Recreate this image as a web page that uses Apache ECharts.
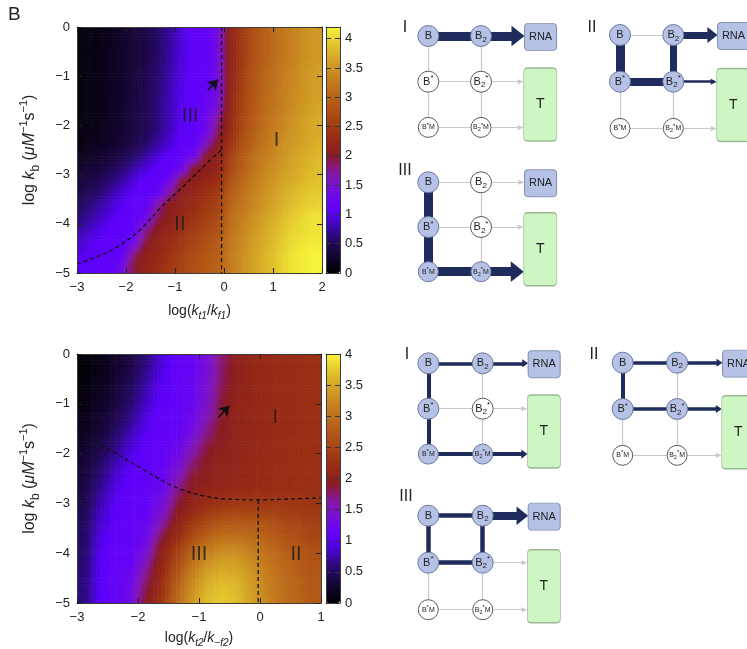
<!DOCTYPE html>
<html>
<head>
<meta charset="utf-8">
<script src="https://cdn.jsdelivr.net/npm/echarts@6/dist/echarts.min.js"></script>
<style>
  html, body { margin: 0; padding: 0; background: #fff; }
  #chart { width: 747px; height: 649px; }
</style>
</head>
<body>
<div id="chart"></div>
<script>
// ---------- data: heat maps (cell centres) ----------
const topX = [-2.875,-2.625,-2.375,-2.125,-1.875,-1.625,-1.375,-1.125,-0.875,-0.625,-0.375,-0.125,0.125,0.375,0.625,0.875,1.125,1.375,1.625,1.875];
const botX = [-2.875,-2.625,-2.375,-2.125,-1.875,-1.625,-1.375,-1.125,-0.875,-0.625,-0.375,-0.125,0.125,0.375,0.625,0.875];
const rowY = [-0.125,-0.375,-0.625,-0.875,-1.125,-1.375,-1.625,-1.875,-2.125,-2.375,-2.625,-2.875,-3.125,-3.375,-3.625,-3.875,-4.125,-4.375,-4.625,-4.875];

const topZ = [
  [0.07,0.11,0.16,0.23,0.30,0.40,0.53,0.72,0.92,1.10,1.15,1.40,2.15,2.50,2.80,3.00,3.15,3.30,3.45,3.55],
  [0.07,0.11,0.16,0.23,0.30,0.40,0.53,0.72,0.92,1.10,1.15,1.40,2.15,2.50,2.80,3.00,3.15,3.30,3.45,3.55],
  [0.08,0.12,0.17,0.24,0.31,0.41,0.55,0.74,0.94,1.10,1.15,1.40,2.15,2.50,2.80,3.00,3.15,3.30,3.45,3.55],
  [0.08,0.12,0.17,0.24,0.32,0.42,0.56,0.75,0.95,1.10,1.15,1.40,2.15,2.55,2.85,3.05,3.20,3.35,3.50,3.60],
  [0.09,0.13,0.18,0.25,0.33,0.44,0.58,0.77,0.97,1.10,1.15,1.40,2.15,2.55,2.85,3.05,3.20,3.35,3.50,3.60],
  [0.09,0.13,0.19,0.26,0.34,0.45,0.60,0.80,1.00,1.10,1.20,1.45,2.20,2.60,2.90,3.10,3.25,3.40,3.50,3.60],
  [0.09,0.13,0.19,0.26,0.35,0.46,0.61,0.81,1.01,1.10,1.20,1.50,2.20,2.60,2.90,3.10,3.25,3.40,3.55,3.65],
  [0.09,0.13,0.19,0.26,0.35,0.45,0.60,0.80,1.02,1.10,1.30,1.75,2.25,2.65,2.95,3.15,3.30,3.45,3.60,3.70],
  [0.10,0.15,0.21,0.28,0.37,0.48,0.64,0.83,1.05,1.10,1.30,1.85,2.30,2.70,3.00,3.20,3.35,3.50,3.60,3.70],
  [0.12,0.17,0.24,0.32,0.42,0.54,0.73,0.92,1.10,1.10,1.60,2.05,2.40,2.80,3.05,3.25,3.40,3.55,3.65,3.75],
  [0.18,0.25,0.32,0.42,0.53,0.71,0.90,1.10,1.10,1.30,2.00,2.15,2.55,2.90,3.15,3.30,3.45,3.60,3.70,3.80],
  [0.27,0.34,0.44,0.56,0.74,0.92,1.10,1.10,1.30,2.00,2.05,2.20,2.65,2.95,3.20,3.40,3.50,3.65,3.75,3.85],
  [0.35,0.44,0.56,0.74,0.92,1.10,1.10,1.30,1.95,2.10,2.20,2.35,2.80,3.05,3.30,3.45,3.60,3.70,3.80,3.90],
  [0.44,0.55,0.72,0.90,1.05,1.10,1.15,1.70,2.05,2.20,2.35,2.50,2.90,3.15,3.35,3.50,3.65,3.80,3.90,3.95],
  [0.53,0.70,0.85,1.00,1.10,1.10,1.65,2.05,2.15,2.30,2.45,2.60,3.00,3.20,3.40,3.55,3.70,3.85,3.95,4.00],
  [0.65,0.80,0.95,1.10,1.10,1.25,1.85,2.10,2.25,2.40,2.55,2.70,3.10,3.30,3.50,3.65,3.80,3.95,4.05,4.10],
  [0.77,0.93,1.05,1.10,1.10,1.70,2.05,2.20,2.35,2.50,2.65,2.80,3.15,3.35,3.55,3.70,3.85,4.00,4.05,4.10],
  [0.90,1.05,1.10,1.10,1.25,1.90,2.15,2.30,2.45,2.60,2.75,2.90,3.20,3.40,3.60,3.75,3.90,4.05,4.10,4.15],
  [1.00,1.10,1.10,1.10,1.75,2.10,2.25,2.40,2.55,2.70,2.85,2.95,3.25,3.45,3.65,3.80,3.95,4.10,4.15,4.20],
  [1.05,1.10,1.10,1.30,1.90,2.15,2.30,2.45,2.60,2.75,2.90,3.00,3.25,3.45,3.65,3.80,3.95,4.10,4.15,4.20]
];

const botZ = [
  [0.05,0.12,0.22,0.38,0.60,0.88,1.05,1.15,1.40,1.75,2.00,2.10,2.15,2.20,2.20,2.25],
  [0.06,0.14,0.25,0.42,0.65,0.92,1.07,1.15,1.40,1.77,2.00,2.10,2.15,2.20,2.20,2.25],
  [0.08,0.16,0.29,0.47,0.72,0.97,1.08,1.17,1.42,1.80,2.02,2.10,2.15,2.20,2.20,2.25],
  [0.10,0.19,0.33,0.53,0.79,1.01,1.09,1.18,1.45,1.85,2.03,2.10,2.15,2.20,2.20,2.25],
  [0.12,0.22,0.38,0.60,0.86,1.05,1.10,1.20,1.50,1.88,2.05,2.10,2.15,2.20,2.20,2.25],
  [0.15,0.27,0.45,0.68,0.93,1.07,1.10,1.25,1.60,1.92,2.05,2.10,2.15,2.20,2.20,2.25],
  [0.19,0.33,0.53,0.78,0.99,1.08,1.12,1.35,1.72,1.95,2.05,2.10,2.15,2.20,2.20,2.25],
  [0.24,0.40,0.62,0.88,1.03,1.09,1.18,1.50,1.85,2.00,2.07,2.12,2.17,2.20,2.22,2.25],
  [0.29,0.48,0.72,0.96,1.06,1.10,1.28,1.68,1.93,2.03,2.08,2.13,2.18,2.20,2.22,2.25],
  [0.33,0.56,0.82,1.02,1.08,1.12,1.42,1.82,1.98,2.05,2.10,2.14,2.18,2.20,2.22,2.25],
  [0.37,0.64,0.90,1.05,1.09,1.16,1.58,1.93,2.03,2.08,2.12,2.16,2.20,2.22,2.23,2.25],
  [0.41,0.72,0.96,1.07,1.10,1.25,1.75,2.02,2.12,2.20,2.25,2.27,2.27,2.27,2.26,2.26],
  [0.45,0.79,1.00,1.08,1.12,1.38,1.88,2.12,2.30,2.40,2.45,2.45,2.42,2.40,2.35,2.32],
  [0.48,0.85,1.03,1.09,1.15,1.55,2.00,2.30,2.55,2.70,2.75,2.72,2.65,2.55,2.48,2.42],
  [0.51,0.90,1.06,1.10,1.22,1.75,2.15,2.50,2.80,2.95,2.95,2.90,2.80,2.68,2.58,2.50],
  [0.54,0.94,1.08,1.10,1.35,1.95,2.35,2.75,3.05,3.20,3.20,3.08,2.95,2.80,2.68,2.60],
  [0.56,0.97,1.09,1.12,1.50,2.05,2.50,2.95,3.25,3.40,3.38,3.22,3.05,2.90,2.76,2.66],
  [0.58,0.99,1.10,1.18,1.65,2.12,2.65,3.12,3.42,3.55,3.50,3.32,3.12,2.95,2.80,2.70],
  [0.60,1.00,1.10,1.25,1.78,2.20,2.78,3.25,3.55,3.68,3.60,3.38,3.16,2.98,2.83,2.73],
  [0.60,1.00,1.10,1.30,1.88,2.28,2.88,3.35,3.65,3.75,3.65,3.42,3.18,3.00,2.85,2.75]
];

// axis ranges / ticks
const topXTicks = [-3, -2, -1, 0, 1, 2];
const botXTicks = [-3, -2, -1, 0, 1];
const yTicks = [-5, -4, -3, -2, -1, 0];
const cbTicks = [0, 0.5, 1, 1.5, 2, 2.5, 3, 3.5, 4];
const topCbMax = 4.2;
const botCbMax = 4;

// dashed regime boundaries, arrows and regime names
const topBoundary = [[-3,-4.82],[-2.7,-4.71],[-2.36,-4.57],[-2.0,-4.35],[-1.68,-4.09],[-1.27,-3.65],[-0.8,-3.21],[-0.32,-2.74],[-0.05,-2.5]];
const topDivider = [[-0.05,0],[-0.05,-5]];
const botBoundary = [[-3,-1.53],[-2.49,-1.9],[-1.94,-2.3],[-1.39,-2.67],[-0.85,-2.87],[-0.4,-2.92],[-0.03,-2.93],[0.5,-2.91],[1,-2.89]];
const botDivider = [[-0.03,-2.93],[-0.03,-5]];
const topArrow = [[-0.33,-1.28],[-0.12,-1.07]];
const botArrow = [[-0.68,-1.27],[-0.5,-1.04]];
const topRegions = [['III',-0.69,-1.82],['I',1.07,-2.3],['II',-0.9,-4.01]];
const botRegions = [['I',0.25,-1.27],['III',-1.0,-4.03],['II',0.59,-4.03]];

// ---------- data: flux diagrams ----------
const EDGES = [['B','B2'],['B','Bs'],['B2','B2s'],['Bs','B2s'],['Bs','BsM'],['B2s','B2sM'],['BsM','B2sM'],['B2','RNA'],['B2s','T'],['B2sM','T']];
// line width of each edge (same order as EDGES), 0 = no flux
const fluxTopI   = [9,   0,   0,   0,   0, 0, 0, 9,   0,   0];
const fluxTopII  = [0,   9,   7,   8,   0, 0, 0, 7,   2.5, 0];
const fluxTopIII = [0,   9,   0,   0,   9, 0, 9, 0,   0,   9];
const fluxBotI   = [3.5, 4,   0,   0,   4, 0, 4, 3.5, 0,   4];
const fluxBotII  = [3.5, 4,   0,   3.5, 0, 0, 0, 3.5, 3.5, 0];
const fluxBotIII = [4.5, 4.5, 4.5, 4.5, 0, 0, 0, 8,   0,   0];
const activeTopI   = ['B','B2'];
const activeTopII  = ['B','B2','Bs','B2s'];
const activeTopIII = ['B','Bs','BsM','B2sM'];
const activeBotI   = ['B','B2','Bs','BsM','B2sM'];
const activeBotII  = ['B','B2','Bs','B2s'];
const activeBotIII = ['B','B2','Bs','B2s'];

// ---------- layout / style ----------
const FONT = "'Liberation Sans', Arial, Helvetica, sans-serif";
const TXT = '#222';
const NAVY = '#1f2b5b';
const minus = v => String(v).replace('-', '\u2212');

// slot of each species in a diagram (column, row)
const SLOT = { B: [0, 0], B2: [1, 0], Bs: [0, 1], B2s: [1, 1], BsM: [0, 2], B2sM: [1, 2] };
const NODE_TEXT = { B: 'B', B2: 'B{s|2}', Bs: 'B{p|*}', B2s: 'B{s|2}{p|*}', BsM: 'B{p|*}M', B2sM: 'B{s|2}{p|*}M' };
const RNA_POS = [2.13, 0.02], T_POS = [2.125, 1.5];
const RNA_SIZE = [32, 27], T_SIZE = [33, 73];
const roundBox = (w, h, r) => 'path://M' + r + ',0 H' + (w - r) + ' Q' + w + ',0 ' + w + ',' + r + ' V' + (h - r) +
  ' Q' + w + ',' + h + ' ' + (w - r) + ',' + h + ' H' + r + ' Q0,' + h + ' 0,' + (h - r) + ' V' + r + ' Q0,0 ' + r + ',0 Z';

// where each small diagram sits (centre of B in px, column / row spacing)
const PANELS = [
  { flux: fluxTopI,   active: activeTopI,   name: 'I',   bx: 428.3, by: 36,    dx: 52.7, dy: 45.7, lx: 405, ly: 28 },
  { flux: fluxTopII,  active: activeTopII,  name: 'II',  bx: 620,   by: 35,    dx: 53.3, dy: 46.7, lx: 592, ly: 28 },
  { flux: fluxTopIII, active: activeTopIII, name: 'III', bx: 428.3, by: 182.3, dx: 52.7, dy: 44.7, lx: 405, ly: 171 },
  { flux: fluxBotI,   active: activeBotI,   name: 'I',   bx: 428.3, by: 363.3, dx: 54.4, dy: 45.4, lx: 407, ly: 355 },
  { flux: fluxBotII,  active: activeBotII,  name: 'II',  bx: 622.7, by: 362.7, dx: 54.4, dy: 46.3, lx: 594, ly: 355 },
  { flux: fluxBotIII, active: activeBotIII, name: 'III', bx: 428.3, by: 515.7, dx: 54.4, dy: 47,   lx: 406, ly: 497 }
];

// colour map (gnuplot-like black-violet-red-yellow)
const STOPS = [
  [0.00,'#000000'],[0.05,'#0e0424'],[0.10,'#1c0848'],[0.15,'#2c0a7a'],[0.20,'#4206c0'],
  [0.25,'#5c00fa'],[0.30,'#6a06f0'],[0.36,'#7a12d0'],[0.41,'#8418a0'],[0.45,'#88185a'],
  [0.48,'#8a1c22'],[0.55,'#982c14'],[0.62,'#a64414'],[0.70,'#b55e18'],[0.78,'#c47c1e'],
  [0.86,'#d2a026'],[0.93,'#e2c42e'],[1.00,'#f6f43a']
];
function buildPalette(n) {
  const hex = c => [1, 3, 5].map(k => parseInt(c.substr(k, 2), 16));
  const out = [];
  for (let i = 0; i < n; i++) {
    const f = i / (n - 1);
    let k = 0;
    while (k < STOPS.length - 2 && STOPS[k + 1][0] < f) k++;
    const [f0, c0] = STOPS[k], [f1, c1] = STOPS[k + 1];
    const t = Math.min(1, Math.max(0, (f - f0) / (f1 - f0)));
    const a = hex(c0), b = hex(c1);
    out.push('rgb(' + a.map((v, j) => Math.round(v + (b[j] - v) * t)).join(',') + ')');
  }
  return out;
}
const PALETTE = buildPalette(160);

function cells(xs, ys, z) {
  const out = [];
  ys.forEach((y, j) => xs.forEach((x, i) => out.push([x, y, z[j][i], i, j])));
  return out;
}

// each cell is shaded smoothly between its neighbours (like pm3d interpolate)
const SUB = 4;
function smoothCell(Z, vmax) {
  const ny = Z.length, nx = Z[0].length;
  const at = (fi, fj) => {
    fi = Math.min(nx - 1, Math.max(0, fi));
    fj = Math.min(ny - 1, Math.max(0, fj));
    const i0 = Math.floor(fi), j0 = Math.floor(fj);
    const i1 = Math.min(nx - 1, i0 + 1), j1 = Math.min(ny - 1, j0 + 1);
    const t = fi - i0, u = fj - j0;
    return (Z[j0][i0] * (1 - t) + Z[j0][i1] * t) * (1 - u) + (Z[j1][i0] * (1 - t) + Z[j1][i1] * t) * u;
  };
  const colorOf = v => PALETTE[Math.max(0, Math.min(PALETTE.length - 1, Math.round(v / vmax * (PALETTE.length - 1))))];
  return function (params, api) {
    const x = api.value(0), y = api.value(1), i = api.value(3), j = api.value(4);
    const children = [];
    const step = 0.25 / SUB;
    for (let a = 0; a < SUB; a++) {
      for (let b = 0; b < SUB; b++) {
        const ox = -0.125 + (a + 0.5) * step, oy = 0.125 - (b + 0.5) * step;
        const p0 = api.coord([x + ox - step / 2, y + oy + step / 2]);
        const p1 = api.coord([x + ox + step / 2, y + oy - step / 2]);
        children.push({
          type: 'rect',
          shape: { x: p0[0], y: p0[1], width: p1[0] - p0[0] + 0.6, height: p1[1] - p0[1] + 0.6 },
          style: { fill: colorOf(at(i + ox / 0.25, j - oy / 0.25)) }
        });
      }
    }
    return { type: 'group', children };
  };
}

// ---------- axes ----------
function frameAxis(gridIndex, position, ticks, extra) {
  return Object.assign({
    type: 'value', gridIndex, position, z: 6,
    min: ticks[0], max: ticks[ticks.length - 1], interval: ticks[1] - ticks[0],
    axisLine: { show: true, onZero: false, lineStyle: { color: '#3c3c3c', width: 1 } },
    axisTick: { show: true, inside: true, length: 5, lineStyle: { color: '#222' } },
    axisLabel: { show: false },
    splitLine: { show: false }
  }, extra);
}
const tickLabel = { show: true, color: TXT, fontSize: 13, margin: 8, formatter: minus };
const xNameStyle = {
  fontSize: 14, color: TXT, lineHeight: 20,
  rich: {
    i: { fontStyle: 'italic', fontSize: 14, lineHeight: 20 },
    s: { fontStyle: 'italic', fontSize: 10, lineHeight: 10, verticalAlign: 'bottom' }
  }
};
const yName = 'log {i|k}{b|b} ({i|\u03bcM}{p|\u22121}s{p|\u22121})';
const yNameStyle = {
  fontSize: 16, color: TXT, lineHeight: 24,
  rich: {
    i: { fontStyle: 'italic', fontSize: 16, lineHeight: 24 },
    b: { fontSize: 12, lineHeight: 12, verticalAlign: 'bottom' },
    p: { fontSize: 11, lineHeight: 11, verticalAlign: 'top' }
  }
};
function cbAxis(gridIndex, position, max, showLabel) {
  return frameAxis(gridIndex, position, cbTicks, {
    max: max, z: 10,
    axisTick: { show: true, inside: true, length: 5, lineStyle: { color: '#333' } },
    axisLabel: showLabel ? {
      show: true, color: TXT, fontSize: 13, margin: 5,
      formatter: v => (Math.abs(v * 2 - Math.round(v * 2)) < 1e-6 ? String(v) : '')
    } : { show: false }
  });
}
const edgeAxis = (gridIndex, position) => ({
  type: 'value', gridIndex, position, min: 0, max: 1, z: 10,
  axisLine: { show: true, onZero: false, lineStyle: { color: '#3c3c3c' } },
  axisTick: { show: false }, axisLabel: { show: false }, splitLine: { show: false }
});

const grids = [
  { left: 77, top: 27, width: 245, height: 246 },
  { left: 77, top: 354, width: 244, height: 249 },
  { left: 326, top: 27, width: 14, height: 246 },
  { left: 326, top: 354, width: 14, height: 249 }
];
const yLabel = Object.assign({}, tickLabel, { margin: 7 });
const xAxes = [
  frameAxis(0, 'bottom', topXTicks, { axisLabel: tickLabel, name: 'log({i|k}{s|t1}/{i|k}{s|f1})', nameLocation: 'middle', nameGap: 28, nameTextStyle: xNameStyle }),
  frameAxis(0, 'top', topXTicks),
  frameAxis(1, 'bottom', botXTicks, { axisLabel: tickLabel, name: 'log({i|k}{s|t2}/{i|k}{s|\u2212f2})', nameLocation: 'middle', nameGap: 25, nameTextStyle: xNameStyle }),
  frameAxis(1, 'top', botXTicks),
  edgeAxis(2, 'bottom'), edgeAxis(2, 'top'),
  edgeAxis(3, 'bottom'), edgeAxis(3, 'top')
];
const yAxes = [
  frameAxis(0, 'left', yTicks, { axisLabel: yLabel, name: yName, nameLocation: 'middle', nameRotate: 90, nameGap: 35, nameTextStyle: yNameStyle }),
  frameAxis(0, 'right', yTicks),
  frameAxis(1, 'left', yTicks, { axisLabel: yLabel, name: yName, nameLocation: 'middle', nameRotate: 90, nameGap: 35, nameTextStyle: yNameStyle }),
  frameAxis(1, 'right', yTicks),
  cbAxis(2, 'left', topCbMax, false), cbAxis(2, 'right', topCbMax, true),
  cbAxis(3, 'left', botCbMax, false), cbAxis(3, 'right', botCbMax, true)
];

// ---------- series: heat maps and overlays ----------
const series = [
  { type: 'custom', xAxisIndex: 0, yAxisIndex: 0, clip: true, renderItem: smoothCell(topZ, topCbMax), data: cells(topX, rowY, topZ), silent: true },
  { type: 'custom', xAxisIndex: 2, yAxisIndex: 2, clip: true, renderItem: smoothCell(botZ, botCbMax), data: cells(botX, rowY, botZ), silent: true }
];
const dashed = { color: '#111', width: 1.3, type: [4, 3] };
[[0, topBoundary], [0, topDivider], [2, botBoundary], [2, botDivider]].forEach(([ax, pts]) => {
  series.push({ type: 'line', xAxisIndex: ax, yAxisIndex: ax, data: pts, showSymbol: false, smooth: 0.35, lineStyle: dashed, silent: true, z: 4 });
});
[[0, topArrow], [2, botArrow]].forEach(([ax, pts]) => {
  series.push({
    type: 'lines', coordinateSystem: 'cartesian2d', xAxisIndex: ax, yAxisIndex: ax, z: 4,
    symbol: ['none', 'arrow'], symbolSize: 10,
    lineStyle: { color: '#111', width: 1.6, opacity: 1 },
    data: [{ coords: pts }], silent: true
  });
});
[[0, topRegions], [2, botRegions]].forEach(([ax, list]) => {
  series.push({
    type: 'scatter', xAxisIndex: ax, yAxisIndex: ax, symbolSize: 0, z: 5, silent: true,
    data: list.map(r => ({ name: r[0], value: [r[1], r[2]] })),
    label: { show: true, position: 'inside', formatter: '{b}', fontSize: 20, color: '#1a1a1a' }
  });
});

// ---------- series: flux diagrams ----------
const nodeRich = {
  s: { fontSize: 8, lineHeight: 9, verticalAlign: 'bottom' },
  p: { fontSize: 8, lineHeight: 9, verticalAlign: 'top' }
};
const smallRich = {
  s: { fontSize: 5.5, lineHeight: 6, verticalAlign: 'bottom' },
  p: { fontSize: 6, lineHeight: 6, verticalAlign: 'top' }
};
const graphic = [{ type: 'text', left: 8, top: 5, style: { text: 'B', font: '19px ' + FONT, fill: TXT } }];

PANELS.forEach(p => {
  const g = grids.length, ax = xAxes.length;
  grids.push({ left: p.bx - 0.5 * p.dx, top: p.by - 0.5 * p.dy, width: 3 * p.dx, height: 3 * p.dy });
  xAxes.push({ type: 'value', gridIndex: g, min: -0.5, max: 2.5, show: false });
  yAxes.push({ type: 'value', gridIndex: g, min: -0.5, max: 2.5, inverse: true, show: false });

  const nodes = Object.keys(SLOT).map(key => {
    const small = key.endsWith('M');
    const on = p.active.includes(key);
    return {
      name: key, value: SLOT[key], symbol: 'circle', symbolSize: small ? 20 : 21,
      itemStyle: { color: on ? '#b5c2e6' : '#ffffff', borderColor: on ? '#6b789c' : '#5a5a5a', borderWidth: 1 },
      label: { show: true, position: 'inside', formatter: NODE_TEXT[key], color: TXT, fontSize: small ? 7 : 11, lineHeight: small ? 11 : 15, rich: small ? smallRich : nodeRich }
    };
  });
  nodes.push({
    name: 'RNA', value: RNA_POS, symbol: roundBox(RNA_SIZE[0], RNA_SIZE[1], 4), symbolSize: RNA_SIZE,
    itemStyle: { color: '#b5c2e6', borderColor: '#8893b5', borderWidth: 1 },
    label: { show: true, position: 'inside', formatter: 'RNA', color: TXT, fontSize: 11 }
  });
  nodes.push({
    name: 'T', value: T_POS, symbol: roundBox(T_SIZE[0], T_SIZE[1], 4), symbolSize: T_SIZE,
    itemStyle: { color: '#cdf6c3', borderColor: '#9bb896', borderWidth: 1 },
    label: { show: true, position: 'inside', formatter: 'T', color: TXT, fontSize: 14 }
  });

  const links = [];
  EDGES.forEach(([a, b], i) => {
    const w = p.flux[i];
    const lineStyle = w ? { color: NAVY, width: w, opacity: 1 } : { color: '#c9c9c9', width: 1.2, opacity: 1 };
    if (b === 'RNA' || b === 'T') {
      const head = w ? [Math.max(6, 2.3 * w), Math.max(6, 1.45 * w)] : [5, 6];
      const boxLeft = b === 'RNA' ? RNA_POS[0] - RNA_SIZE[0] / 2 / p.dx : T_POS[0] - T_SIZE[0] / 2 / p.dx;
      const anchor = 'to_' + a;
      nodes.push({ name: anchor, value: [boxLeft - head[1] / 2 / p.dx, SLOT[a][1]], symbolSize: 0, label: { show: false } });
      links.push({ source: a, target: anchor, symbol: ['none', 'triangle'], symbolSize: [[0, 0], head], lineStyle });
    } else {
      links.push({ source: a, target: b, lineStyle });
    }
  });
  // draw flux edges above idle ones
  links.sort((l1, l2) => (l1.lineStyle.color === NAVY) - (l2.lineStyle.color === NAVY));

  series.push({
    type: 'graph', layout: 'none', coordinateSystem: 'cartesian2d', xAxisIndex: ax, yAxisIndex: ax,
    roam: false, silent: true,
    data: nodes, links: links,
    lineStyle: { opacity: 1, curveness: 0 },
    emphasis: { disabled: true }
  });

  graphic.push({ type: 'text', x: p.lx, y: p.ly, style: { text: p.name, font: '16px ' + FONT, fill: TXT, align: 'center', verticalAlign: 'middle' } });
});

const option = {
  animation: false,
  textStyle: { fontFamily: FONT },
  grid: grids.map(g => Object.assign({ outerBoundsMode: 'none', containLabel: false }, g)),
  xAxis: xAxes,
  yAxis: yAxes,
  visualMap: [
    { type: 'continuous', seriesIndex: 0, dimension: 2, min: 0, max: topCbMax, inRange: { color: PALETTE },
      left: 326, top: 27, itemWidth: 14, itemHeight: 246, padding: 0, calculable: false, hoverLink: false, text: null, showLabel: false },
    { type: 'continuous', seriesIndex: 1, dimension: 2, min: 0, max: botCbMax, inRange: { color: PALETTE },
      left: 326, top: 354, itemWidth: 14, itemHeight: 249, padding: 0, calculable: false, hoverLink: false, text: null, showLabel: false }
  ],
  graphic: graphic,
  series: series
};

const chart = echarts.init(document.getElementById('chart'), null, { renderer: 'canvas' });
chart.setOption(option);
</script>
</body>
</html>
